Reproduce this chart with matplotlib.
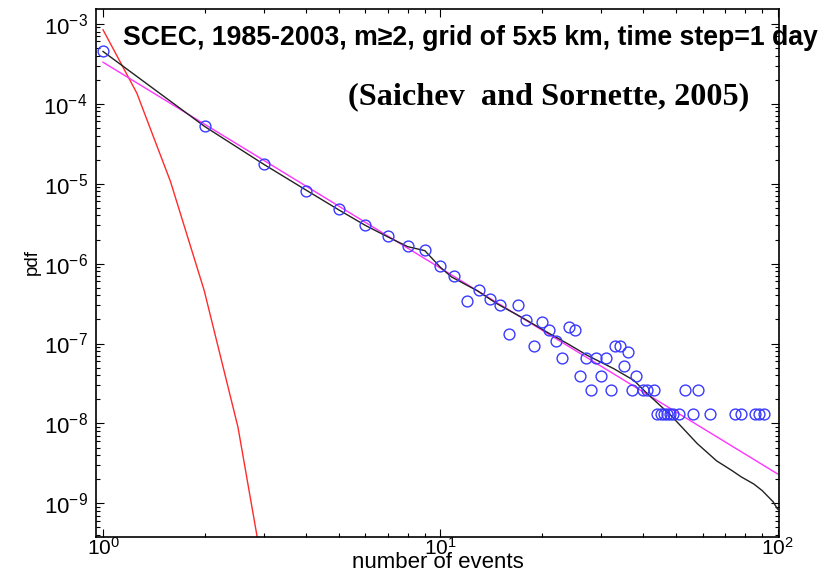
import numpy as np
import matplotlib
matplotlib.use("Agg")
import matplotlib.pyplot as plt
from matplotlib.ticker import LogLocator, LogFormatterSciNotation, NullFormatter

plt.rcParams['font.family'] = ['Liberation Sans', 'DejaVu Sans']
plt.rcParams['mathtext.fontset'] = 'custom'
plt.rcParams['mathtext.rm'] = 'Liberation Sans'
plt.rcParams['mathtext.default'] = 'regular'

# observed pdf of number of events (blue circles)
n_events = [1, 2, 3, 4, 5, 6, 7, 8, 9, 10, 11, 12, 13, 14, 15, 16, 17, 18, 19, 20,
            21, 22, 23, 24, 25, 26, 27, 28, 29, 30, 31, 32, 33, 34, 35, 36, 37, 38,
            40, 41, 43, 44, 45, 46, 47, 48, 49, 51, 53, 56, 58, 63, 75, 78, 86, 88, 91]
pdf_obs = [4.5e-4, 5.3e-5, 1.76e-5, 8.2e-6, 4.77e-6, 3.06e-6, 2.2e-6, 1.65e-6, 1.47e-6, 9.2e-7,
           6.9e-7, 3.45e-7, 4.65e-7, 3.58e-7, 3.07e-7, 1.32e-7, 3.07e-7, 1.99e-7, 9.2e-8, 1.86e-7,
           1.46e-7, 1.07e-7, 6.6e-8, 1.6e-7, 1.46e-7, 3.96e-8, 6.6e-8, 2.64e-8, 6.6e-8, 3.96e-8,
           6.6e-8, 2.64e-8, 9.2e-8, 9.2e-8, 5.28e-8, 7.9e-8, 2.64e-8, 3.96e-8,
           2.64e-8, 2.64e-8, 2.64e-8, 1.32e-8, 1.32e-8, 1.32e-8, 1.32e-8, 1.32e-8, 1.32e-8,
           1.32e-8, 2.64e-8, 1.32e-8, 2.64e-8, 1.32e-8, 1.32e-8, 1.32e-8, 1.32e-8, 1.32e-8, 1.32e-8]

# smoothed theoretical curve (black)
x_theory = [1, 2, 3, 4, 5, 6, 7, 8, 9, 10, 10.8, 12.9, 14.7, 17.7, 20.7, 23.8, 27.3, 32.7,
            37.5, 41.1, 48.3, 57.8, 66, 73, 78, 85, 90, 97, 100]
pdf_theory = [4.5e-4, 5.2e-5, 1.74e-5, 8.3e-6, 4.7e-6, 3.0e-6, 2.15e-6, 1.63e-6, 1.45e-6, 9.0e-7,
              6.8e-7, 4.55e-7, 3.16e-7, 2.05e-7, 1.39e-7, 1.0e-7, 7.1e-8, 4.84e-8,
              3.46e-8, 2.36e-8, 1.26e-8, 5.6e-9, 3.4e-9, 2.6e-9, 2.15e-9, 1.75e-9, 1.45e-9, 1.05e-9, 8.5e-10]

# power law fit (magenta)
x_fit = [1, 100]
pdf_fit = [3.3e-4, 2.34e-9]

# poisson reference (red)
x_poisson = [1.0, 1.259, 1.585, 1.995, 2.512, 3.162]
pdf_poisson = [8.4e-4, 1.36e-4, 1.06e-5, 4.6e-7, 9e-9, 3.5e-11]

# axis decades
x_decades = [1, 10, 100]
y_decades = [1e-9, 1e-8, 1e-7, 1e-6, 1e-5, 1e-4, 1e-3]

fig = plt.figure(figsize=(8.38, 5.74), dpi=100)
ax = fig.add_axes([96/838, 1-537/574, (779-96)/838, (537-9)/574])

ax.plot(x_poisson, pdf_poisson, color='#ff2a2a', lw=1.0)
ax.plot(x_fit, pdf_fit, color='#ff33ff', lw=1.0)
ax.plot(x_theory, pdf_theory, color='#222222', lw=1.0)
ax.plot(n_events, pdf_obs, 'o', mfc='none', mec='#3a3aff', ms=7.8, mew=1.0)

ax.set_xscale('log')
ax.set_yscale('log')
ax.set_xlim(0.953, 101)
ax.set_ylim(3.8e-10, 1.53e-3)

ax.set_xticks(x_decades)
ax.set_yticks(y_decades)
ax.xaxis.set_minor_locator(LogLocator(base=10, subs=np.arange(2, 10), numticks=10))
ax.yaxis.set_minor_locator(LogLocator(base=10, subs=np.arange(2, 10), numticks=12))
ax.xaxis.set_minor_formatter(NullFormatter())
ax.yaxis.set_minor_formatter(NullFormatter())
ax.xaxis.set_major_formatter(LogFormatterSciNotation())
ax.yaxis.set_major_formatter(LogFormatterSciNotation())

ax.tick_params(which='both', direction='in', top=True, right=True, labelsize=16, width=0.8)
ax.tick_params(which='major', length=6)
ax.tick_params(which='minor', length=3)
ax.tick_params(axis='x', which='major', pad=0, labelsize=15)
ax.tick_params(axis='y', which='major', pad=6)
for s in ax.spines.values():
    s.set_linewidth(1.2)

ax.set_xlabel('number of events', fontsize=16, va='bottom')
ax.xaxis.set_label_coords(0.5, -36/528)
ax.set_ylabel('pdf', fontsize=13.5, va='center', ha='center')
ax.yaxis.set_label_coords(-64/683, (537-262)/528)

fig.text(123/838, 1-38/574, 'SCEC, 1985-2003, m\u22652, grid of 5x5 km, time step=1 day',
         fontsize=19.2, fontweight='bold', ha='left', va='center')
fig.text(348/838, 1-97/574, '(Saichev  and Sornette, 2005)',
         fontsize=23.2, fontweight='bold', family='Liberation Serif', ha='left', va='center')

fig.savefig('out.png', dpi=100)
